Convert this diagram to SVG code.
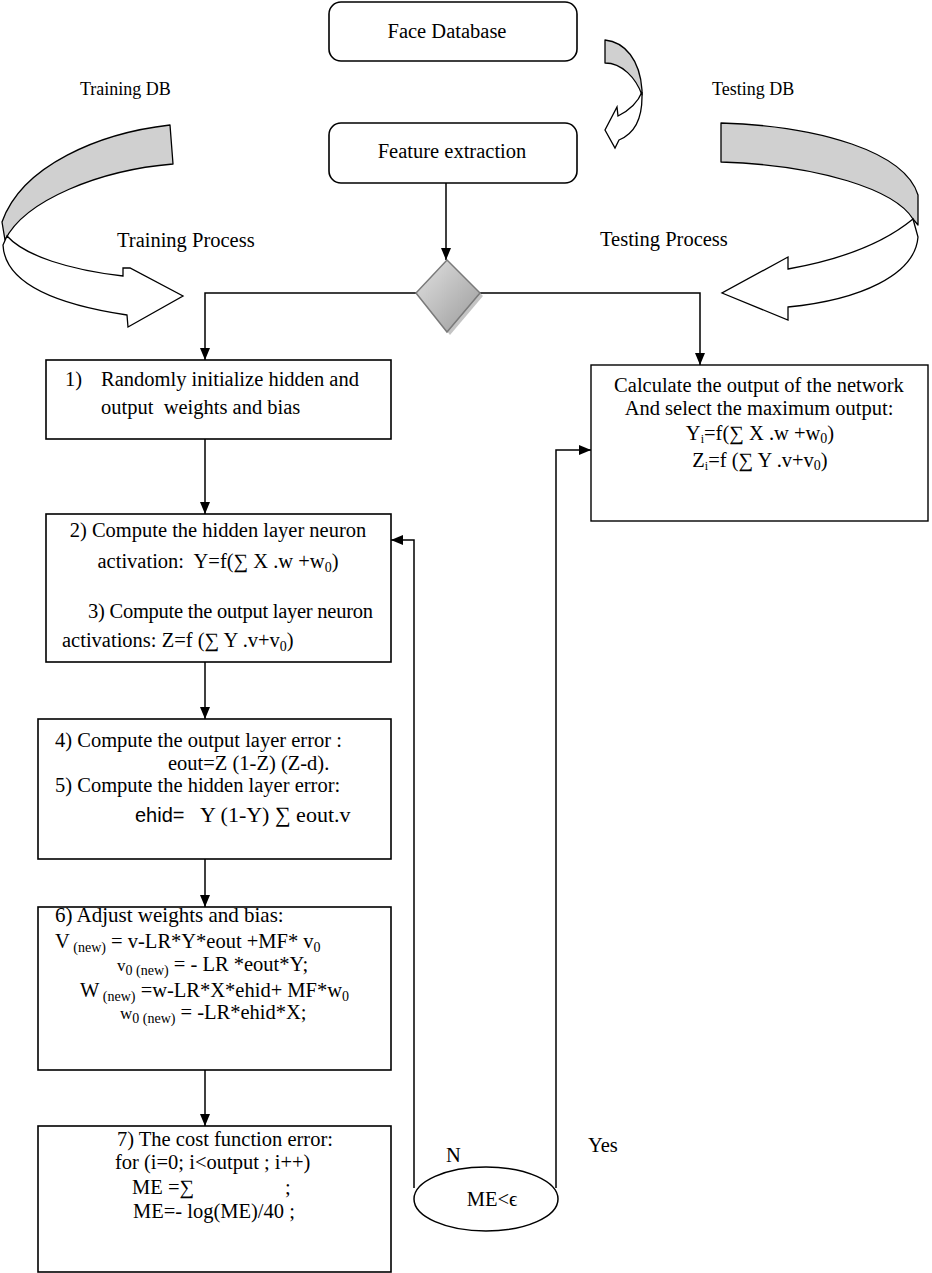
<svg xmlns="http://www.w3.org/2000/svg" width="932" height="1273" viewBox="0 0 932 1273">
<style>
.box{fill:#fff;stroke:#000;stroke-width:1.6}
.rbox{fill:#fff;stroke:#000;stroke-width:1.4}
.t{font-family:"Liberation Serif","Times New Roman",serif;font-size:20.5px;fill:#000}
.lbl{font-family:"Liberation Serif","Times New Roman",serif;font-size:18px;fill:#000}
.sans{font-family:"Liberation Sans",Arial,sans-serif;font-size:20px;fill:#000}
.conn{fill:none;stroke:#000;stroke-width:1.5}
.g{fill:#d0d0d0;stroke:#000;stroke-width:1.3;stroke-linejoin:round}
.w{fill:#fff;stroke:#000;stroke-width:1.3;stroke-linejoin:miter}
</style>
<defs>
<marker id="ah" viewBox="0 0 12 10" refX="12" refY="5" markerWidth="12" markerHeight="10" markerUnits="userSpaceOnUse" orient="auto">
<path d="M0,0 L12,5 L0,10 Z" fill="#000"/>
</marker>
<linearGradient id="dg" x1="0" y1="0" x2="1" y2="1">
<stop offset="0" stop-color="#e2e2e2"/>
<stop offset="1" stop-color="#9a9a9a"/>
</linearGradient>
</defs>

<g id="training-arrow">
<path class="g" d="M170,125 C100,133 22,165 2,222 L5,240 C25,200 100,170 173,164 Z"/>
<path class="w" d="M7,236 C25,256 70,270 123,276 L123,268 L130,268 L183,296 L128,327 L127,315 C60,305 5,285 3,245 Z"/>
</g>
<g id="testing-arrow">
<path class="g" d="M721,123 C820,126 905,152 918,195 L918,225 L913,219 C895,190 820,165 721,162 Z"/>
<path class="w" d="M913,219 C890,238 850,258 788,269 L788,257 L722,293 L788,320 L788,307 C860,300 915,275 918,237 Z"/>
</g>
<g id="db-arrow">
<path class="g" d="M605,40 C625,42 640,60 642,90 L642,95 C636,78 622,63 605,63 Z"/>
<path class="w" d="M642,92 C638,102 630,110 618,116 L617,107 L605,130 L615,148 L619,140 C636,133 642,116 642,97 Z"/>
</g>

<text class="lbl" x="80" y="95">Training DB</text>
<text class="t" x="117" y="247">Training Process</text>
<text class="lbl" x="712" y="95">Testing DB</text>
<text class="t" x="600" y="246">Testing Process</text>

<g id="connectors">
<path class="conn" d="M446,183 V260" marker-end="url(#ah)"/>
<path class="conn" d="M416,293 H205 V360" marker-end="url(#ah)"/>
<path class="conn" d="M480,293 H700 V365" marker-end="url(#ah)"/>
<path class="conn" d="M205,439 V514" marker-end="url(#ah)"/>
<path class="conn" d="M205,662 V719" marker-end="url(#ah)"/>
<path class="conn" d="M205,859 V907" marker-end="url(#ah)"/>
<path class="conn" d="M205,1070 V1126" marker-end="url(#ah)"/>
<path class="conn" d="M414,1188 V540 H391" marker-end="url(#ah)"/>
<path class="conn" d="M556,1188 V450 H591" marker-end="url(#ah)"/>
</g>

<g id="face-db">
<rect class="box" x="329" y="2" width="248" height="59" rx="12"/>
<text class="t" x="447" y="38" text-anchor="middle">Face Database</text>
</g>
<g id="feature-extraction">
<rect class="box" x="329" y="123" width="248" height="60" rx="12"/>
<text class="t" x="452" y="158" text-anchor="middle">Feature extraction</text>
</g>
<g id="decision">
<polygon points="450,263 483,296 450,335 419,296" fill="#c4c4c4"/>
<polygon points="447,260 480,293 447,332 416,293" fill="url(#dg)" stroke="#7a7a7a" stroke-width="1.5"/>
</g>

<g id="step1">
<rect class="box" x="46" y="360" width="345" height="79"/>
<text class="t" x="65" y="386">1)</text>
<text class="t" x="101" y="386">Randomly initialize hidden and</text>
<text class="t" x="101" y="414" xml:space="preserve">output  weights and bias</text>
</g>

<g id="step23">
<rect class="box" x="46" y="514" width="345" height="148"/>
<text class="t" x="218" y="537" text-anchor="middle">2) Compute the hidden layer neuron</text>
<text class="t" x="218" y="568" text-anchor="middle" xml:space="preserve">activation:  Y=f(∑ X .w +w<tspan font-size="14" dy="4">0</tspan><tspan dy="-4">)</tspan></text>
<text class="t" x="88" y="618" textLength="285" lengthAdjust="spacing">3) Compute the output layer neuron</text>
<text class="t" x="62" y="647">activations: Z=f (∑ Y .v+v<tspan font-size="14" dy="4">0</tspan><tspan dy="-4">)</tspan></text>
</g>

<g id="step45">
<rect class="box" x="38" y="719" width="353" height="140"/>
<text class="t" x="55" y="747">4) Compute the output layer error :</text>
<text class="t" x="168" y="770">eout=Z (1-Z) (Z-d).</text>
<text class="t" x="55" y="792">5) Compute the hidden layer error:</text>
<text class="sans" x="135" y="822">ehid=</text>
<text class="t" x="200" y="822" style="font-size:22px">Y (1-Y) ∑ eout.v</text>
</g>

<g id="step6">
<rect class="box" x="38" y="907" width="353" height="163"/>
<text class="t" x="55" y="922" style="font-size:21px">6) Adjust weights and bias:</text>
<text class="t" x="55" y="948">V<tspan font-size="14" dy="4"> (new)</tspan><tspan dy="-4"> = v-LR*Y*eout +MF* v</tspan><tspan font-size="14" dy="4">0</tspan></text>
<text class="t" x="117" y="971"><tspan font-size="17">v</tspan><tspan font-size="14" dy="4">0 (new)</tspan><tspan dy="-4"> = - LR *eout*Y;</tspan></text>
<text class="t" x="80" y="997">W<tspan font-size="14" dy="4"> (new)</tspan><tspan dy="-4"> =w-LR*X*ehid+ MF*w</tspan><tspan font-size="14" dy="4">0</tspan></text>
<text class="t" x="120" y="1019"><tspan font-size="17">w</tspan><tspan font-size="14" dy="4">0 (new)</tspan><tspan dy="-4"> = -LR*ehid*X;</tspan></text>
</g>

<g id="step7">
<rect class="box" x="38" y="1126" width="353" height="146"/>
<text class="t" x="117" y="1146">7) The cost function error:</text>
<text class="t" x="115" y="1169">for (i=0; i&lt;output ; i++)</text>
<text class="t" x="132" y="1194">ME =∑</text>
<text class="t" x="285" y="1194">;</text>
<text class="t" x="133" y="1218">ME=- log(ME)/40 ;</text>
</g>

<g id="output-box">
<rect class="rbox" x="591" y="365" width="337" height="156"/>
<text class="t" x="759" y="392" text-anchor="middle">Calculate the output of the network</text>
<text class="t" x="759" y="415" text-anchor="middle">And select the maximum output:</text>
<text class="t" x="760" y="440" text-anchor="middle">Y<tspan font-size="12" dy="3">i</tspan><tspan dy="-3">=f(∑ X .w +w</tspan><tspan font-size="14" dy="3">0</tspan><tspan dy="-3">)</tspan></text>
<text class="t" x="760" y="467" text-anchor="middle">Z<tspan font-size="12" dy="3">i</tspan><tspan dy="-3">=f (∑ Y .v+v</tspan><tspan font-size="14" dy="3">0</tspan><tspan dy="-3">)</tspan></text>
</g>

<g id="check">
<ellipse cx="486" cy="1199" rx="72" ry="32" fill="#fff" stroke="#000" stroke-width="1.5"/>
<text class="t" x="492" y="1206" text-anchor="middle">ME&lt;ϵ</text>
</g>
<text class="t" x="446" y="1162">N</text>
<text class="t" x="588" y="1152">Yes</text>
</svg>
